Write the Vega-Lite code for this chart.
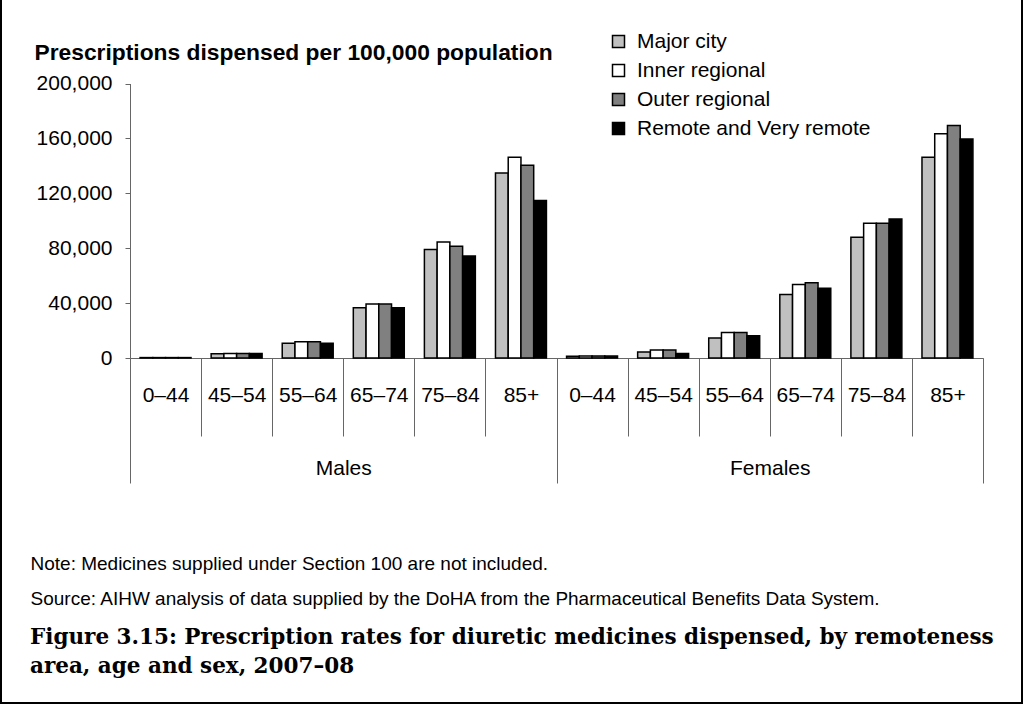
{
  "$schema": "https://vega.github.io/schema/vega-lite/v6.json",
  "width": 1023,
  "height": 708,
  "autosize": {"type": "none"},
  "padding": {"left": 0, "top": -4, "right": 0, "bottom": 0},
  "background": "white",
  "config": {
    "view": {"stroke": "black", "strokeWidth": 4},
    "font": "Liberation Sans"
  },
  "title": {
    "text": ["Figure 3.15: Prescription rates for diuretic medicines dispensed, by remoteness", "area, age and sex, 2007–08"],
    "orient": "bottom",
    "anchor": "start",
    "frame": "group",
    "offset": -77,
    "dx": 30,
    "font": "DejaVu Serif",
    "fontSize": 21.5,
    "fontWeight": "bold",
    "lineHeight": 29,
    "color": "black"
  },
  "layer": [
    {
      "data": {
        "values": [
          {"sex": "Males", "age": "0–44", "grp": "Males|0–44", "region": "Major city", "value": 300},
          {"sex": "Males", "age": "0–44", "grp": "Males|0–44", "region": "Inner regional", "value": 300},
          {"sex": "Males", "age": "0–44", "grp": "Males|0–44", "region": "Outer regional", "value": 300},
          {"sex": "Males", "age": "0–44", "grp": "Males|0–44", "region": "Remote and Very remote", "value": 300},
          {"sex": "Males", "age": "45–54", "grp": "Males|45–54", "region": "Major city", "value": 3100},
          {"sex": "Males", "age": "45–54", "grp": "Males|45–54", "region": "Inner regional", "value": 3200},
          {"sex": "Males", "age": "45–54", "grp": "Males|45–54", "region": "Outer regional", "value": 3200},
          {"sex": "Males", "age": "45–54", "grp": "Males|45–54", "region": "Remote and Very remote", "value": 3300},
          {"sex": "Males", "age": "55–64", "grp": "Males|55–64", "region": "Major city", "value": 10700},
          {"sex": "Males", "age": "55–64", "grp": "Males|55–64", "region": "Inner regional", "value": 11900},
          {"sex": "Males", "age": "55–64", "grp": "Males|55–64", "region": "Outer regional", "value": 11900},
          {"sex": "Males", "age": "55–64", "grp": "Males|55–64", "region": "Remote and Very remote", "value": 10700},
          {"sex": "Males", "age": "65–74", "grp": "Males|65–74", "region": "Major city", "value": 36600},
          {"sex": "Males", "age": "65–74", "grp": "Males|65–74", "region": "Inner regional", "value": 39300},
          {"sex": "Males", "age": "65–74", "grp": "Males|65–74", "region": "Outer regional", "value": 39300},
          {"sex": "Males", "age": "65–74", "grp": "Males|65–74", "region": "Remote and Very remote", "value": 36600},
          {"sex": "Males", "age": "75–84", "grp": "Males|75–84", "region": "Major city", "value": 79000},
          {"sex": "Males", "age": "75–84", "grp": "Males|75–84", "region": "Inner regional", "value": 84600},
          {"sex": "Males", "age": "75–84", "grp": "Males|75–84", "region": "Outer regional", "value": 81400},
          {"sex": "Males", "age": "75–84", "grp": "Males|75–84", "region": "Remote and Very remote", "value": 74400},
          {"sex": "Males", "age": "85+", "grp": "Males|85+", "region": "Major city", "value": 134700},
          {"sex": "Males", "age": "85+", "grp": "Males|85+", "region": "Inner regional", "value": 146300},
          {"sex": "Males", "age": "85+", "grp": "Males|85+", "region": "Outer regional", "value": 140500},
          {"sex": "Males", "age": "85+", "grp": "Males|85+", "region": "Remote and Very remote", "value": 114700},
          {"sex": "Females", "age": "0–44", "grp": "Females|0–44", "region": "Major city", "value": 1300},
          {"sex": "Females", "age": "0–44", "grp": "Females|0–44", "region": "Inner regional", "value": 1400},
          {"sex": "Females", "age": "0–44", "grp": "Females|0–44", "region": "Outer regional", "value": 1500},
          {"sex": "Females", "age": "0–44", "grp": "Females|0–44", "region": "Remote and Very remote", "value": 1400},
          {"sex": "Females", "age": "45–54", "grp": "Females|45–54", "region": "Major city", "value": 4300},
          {"sex": "Females", "age": "45–54", "grp": "Females|45–54", "region": "Inner regional", "value": 5800},
          {"sex": "Females", "age": "45–54", "grp": "Females|45–54", "region": "Outer regional", "value": 5800},
          {"sex": "Females", "age": "45–54", "grp": "Females|45–54", "region": "Remote and Very remote", "value": 3200},
          {"sex": "Females", "age": "55–64", "grp": "Females|55–64", "region": "Major city", "value": 14500},
          {"sex": "Females", "age": "55–64", "grp": "Females|55–64", "region": "Inner regional", "value": 18600},
          {"sex": "Females", "age": "55–64", "grp": "Females|55–64", "region": "Outer regional", "value": 18600},
          {"sex": "Females", "age": "55–64", "grp": "Females|55–64", "region": "Remote and Very remote", "value": 16200},
          {"sex": "Females", "age": "65–74", "grp": "Females|65–74", "region": "Major city", "value": 46300},
          {"sex": "Females", "age": "65–74", "grp": "Females|65–74", "region": "Inner regional", "value": 53500},
          {"sex": "Females", "age": "65–74", "grp": "Females|65–74", "region": "Outer regional", "value": 54900},
          {"sex": "Females", "age": "65–74", "grp": "Females|65–74", "region": "Remote and Very remote", "value": 50900},
          {"sex": "Females", "age": "75–84", "grp": "Females|75–84", "region": "Major city", "value": 88000},
          {"sex": "Females", "age": "75–84", "grp": "Females|75–84", "region": "Inner regional", "value": 98100},
          {"sex": "Females", "age": "75–84", "grp": "Females|75–84", "region": "Outer regional", "value": 98100},
          {"sex": "Females", "age": "75–84", "grp": "Females|75–84", "region": "Remote and Very remote", "value": 101200},
          {"sex": "Females", "age": "85+", "grp": "Females|85+", "region": "Major city", "value": 146300},
          {"sex": "Females", "age": "85+", "grp": "Females|85+", "region": "Inner regional", "value": 163400},
          {"sex": "Females", "age": "85+", "grp": "Females|85+", "region": "Outer regional", "value": 169400},
          {"sex": "Females", "age": "85+", "grp": "Females|85+", "region": "Remote and Very remote", "value": 159600}
        ]
      },
      "mark": {"type": "bar", "stroke": "black", "strokeWidth": 1.5},
      "encoding": {
        "x": {
          "field": "grp",
          "type": "nominal",
          "scale": {
            "domain": ["Males|0–44", "Males|45–54", "Males|55–64", "Males|65–74", "Males|75–84", "Males|85+",
                       "Females|0–44", "Females|45–54", "Females|55–64", "Females|65–74", "Females|75–84", "Females|85+"],
            "range": [130, 983],
            "paddingInner": 0,
            "paddingOuter": 0
          },
          "axis": {
            "orient": "bottom",
            "offset": -346,
            "labelExpr": "split(datum.label, '|')[1]",
            "labelAngle": 0,
            "labelFontSize": 21,
            "labelColor": "black",
            "labelPadding": -52,
            "labelOverlap": false,
            "labelBound": false,
            "tickBand": "extent",
            "tickSize": 78,
            "tickColor": "#666666",
            "tickWidth": 1,
            "domainColor": "#666666",
            "domainWidth": 1,
            "title": "Note: Medicines supplied under Section 100 are not included.",
            "titleX": 30,
            "titleY": 205,
            "titleAlign": "left",
            "titleBaseline": "middle",
            "titleFontSize": 19,
            "titleFontWeight": "normal",
            "titleColor": "black",
            "titleLimit": 1000
          }
        },
        "xOffset": {
          "field": "region",
          "type": "nominal",
          "scale": {
            "domain": ["Major city", "Inner regional", "Outer regional", "Remote and Very remote"],
            "paddingInner": 0,
            "paddingOuter": 0.79
          }
        },
        "y": {
          "field": "value",
          "type": "quantitative",
          "scale": {"domain": [0, 200000], "range": [362, 87.5], "nice": false, "zero": true},
          "axis": {
            "orient": "left",
            "offset": -130,
            "values": [0, 40000, 80000, 120000, 160000, 200000],
            "format": ",d",
            "grid": false,
            "labelFontSize": 21,
            "labelColor": "black",
            "labelPadding": 13,
            "tickSize": 5,
            "tickColor": "#666666",
            "domainColor": "#666666",
            "title": "Prescriptions dispensed per 100,000 population",
            "titleAngle": 0,
            "titleAlign": "left",
            "titleBaseline": "middle",
            "titleX": -96,
            "titleY": 56,
            "titleFontSize": 22.8,
            "titleFontWeight": "bold",
            "titleColor": "black",
            "titleLimit": 1000
          }
        },
        "color": {
          "field": "region",
          "type": "nominal",
          "scale": {
            "domain": ["Major city", "Inner regional", "Outer regional", "Remote and Very remote"],
            "range": ["#c0c0c0", "#ffffff", "#808080", "#000000"]
          },
          "legend": {
            "title": null,
            "orient": "none",
            "legendX": 608,
            "legendY": 35,
            "padding": 0,
            "symbolType": "square",
            "symbolSize": 144,
            "symbolStrokeColor": "black",
            "symbolStrokeWidth": 1.5,
            "symbolOpacity": 1,
            "labelFontSize": 21,
            "labelColor": "black",
            "labelOffset": 8,
            "rowPadding": 7,
            "labelLimit": 400
          }
        }
      }
    },
    {
      "data": {"values": [{"sex": "Males"}, {"sex": "Females"}]},
      "mark": {"type": "rule", "opacity": 0},
      "encoding": {
        "x": {
          "field": "sex",
          "type": "nominal",
          "scale": {"domain": ["Males", "Females"], "range": [130, 983], "paddingInner": 0, "paddingOuter": 0},
          "axis": {
            "orient": "bottom",
            "offset": -346,
            "domain": false,
            "labelAngle": 0,
            "labelFontSize": 21,
            "labelColor": "black",
            "labelPadding": -26,
            "tickBand": "extent",
            "tickSize": 125,
            "tickColor": "#666666",
            "tickWidth": 1,
            "title": "Source: AIHW analysis of data supplied by the DoHA from the Pharmaceutical Benefits Data System.",
            "titleX": 30,
            "titleY": 240,
            "titleAlign": "left",
            "titleBaseline": "middle",
            "titleFontSize": 19,
            "titleFontWeight": "normal",
            "titleColor": "black",
            "titleLimit": 1000
          }
        }
      }
    }
  ],
  "resolve": {"scale": {"x": "independent"}, "axis": {"x": "independent"}}
}
